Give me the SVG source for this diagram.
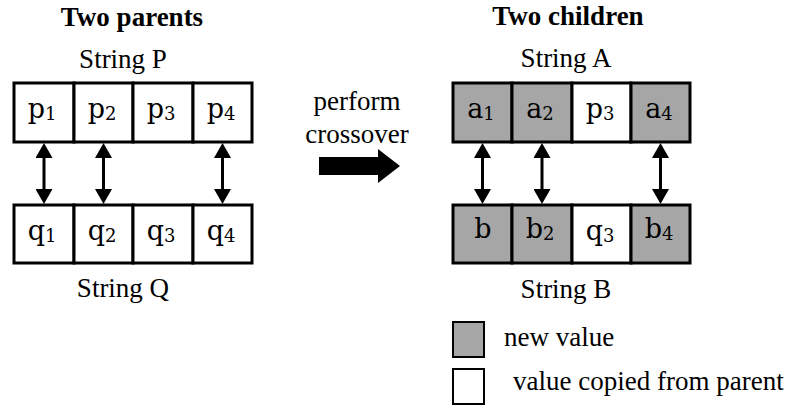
<svg xmlns="http://www.w3.org/2000/svg" width="800" height="410" viewBox="0 0 800 410">
  <defs>
    <style>
      .title { font-family: "Liberation Serif", "Times New Roman", serif; font-weight: bold; font-size: 27px; fill: #000; }
      .label { font-family: "Liberation Serif", "Times New Roman", serif; font-size: 27px; fill: #000; }
      .cell { stroke: #000; stroke-width: 3; }
      .new { fill: #a6a6a6; }
      .copied { fill: #ffffff; }
      .val { font-family: "DejaVu Serif", "Liberation Serif", serif; font-size: 27px; fill: #000; text-anchor: middle; }
      .sub { font-size: 18px; }
      .swap { stroke: #000; stroke-width: 3; fill: none; marker-start: url(#head); marker-end: url(#head); }
      .key { stroke: #000; stroke-width: 2; }
    </style>
    <marker id="head" viewBox="0 0 15 17" refX="1" refY="8.5" markerWidth="15" markerHeight="17" markerUnits="userSpaceOnUse" orient="auto-start-reverse">
      <path d="M0,0 L15,8.5 L0,17 Z" fill="#000"/>
    </marker>
  </defs>

  <rect width="800" height="410" fill="#ffffff"/>

  <!-- headings -->
  <g id="title-parents"><text class="title" x="132" y="26" text-anchor="middle">Two parents</text></g>
  <g id="title-children"><text class="title" x="568" y="25" text-anchor="middle">Two children</text></g>

  <!-- parent string P -->
  <g id="string-p">
    <text class="label" x="123" y="68" text-anchor="middle">String P</text>
    <g id="p1"><rect class="cell copied" x="14" y="83" width="60" height="59"/><text class="val" x="42" y="118">p<tspan class="sub" dy="2">1</tspan></text></g>
    <g id="p2"><rect class="cell copied" x="74" y="83" width="59" height="59"/><text class="val" x="102" y="118">p<tspan class="sub" dy="2">2</tspan></text></g>
    <g id="p3"><rect class="cell copied" x="133" y="83" width="60" height="59"/><text class="val" x="161" y="118">p<tspan class="sub" dy="2">3</tspan></text></g>
    <g id="p4"><rect class="cell copied" x="193" y="83" width="59" height="59"/><text class="val" x="221" y="118">p<tspan class="sub" dy="2">4</tspan></text></g>
  </g>

  <!-- parent string Q -->
  <g id="string-q">
    <g id="q1"><rect class="cell copied" x="14" y="205" width="60" height="58"/><text class="val" x="42" y="240">q<tspan class="sub" dy="2">1</tspan></text></g>
    <g id="q2"><rect class="cell copied" x="74" y="205" width="59" height="58"/><text class="val" x="102" y="240">q<tspan class="sub" dy="2">2</tspan></text></g>
    <g id="q3"><rect class="cell copied" x="133" y="205" width="60" height="58"/><text class="val" x="161" y="240">q<tspan class="sub" dy="2">3</tspan></text></g>
    <g id="q4"><rect class="cell copied" x="193" y="205" width="59" height="58"/><text class="val" x="221" y="240">q<tspan class="sub" dy="2">4</tspan></text></g>
    <text class="label" x="123" y="297" text-anchor="middle">String Q</text>
  </g>

  <!-- operation label -->
  <g id="crossover-label">
    <text class="label" x="357" y="110" text-anchor="middle">perform</text>
    <text class="label" x="357" y="143" text-anchor="middle">crossover</text>
  </g>

  <!-- child string A -->
  <g id="string-a">
    <text class="label" x="566" y="67" text-anchor="middle">String A</text>
    <g id="a1"><rect class="cell new" x="453" y="83" width="59" height="59"/><text class="val" x="481" y="118">a<tspan class="sub" dy="2">1</tspan></text></g>
    <g id="a2"><rect class="cell new" x="512" y="83" width="60" height="59"/><text class="val" x="540" y="118">a<tspan class="sub" dy="2">2</tspan></text></g>
    <g id="a3"><rect class="cell copied" x="572" y="83" width="59" height="59"/><text class="val" x="600" y="118">p<tspan class="sub" dy="2">3</tspan></text></g>
    <g id="a4"><rect class="cell new" x="631" y="83" width="59" height="59"/><text class="val" x="659" y="118">a<tspan class="sub" dy="2">4</tspan></text></g>
  </g>

  <!-- child string B -->
  <g id="string-b">
    <g id="b1"><rect class="cell new" x="453" y="205" width="59" height="58"/><text class="val" x="483" y="238">b</text></g>
    <g id="b2"><rect class="cell new" x="512" y="205" width="60" height="58"/><text class="val" x="540" y="238">b<tspan class="sub" dy="2">2</tspan></text></g>
    <g id="b3"><rect class="cell copied" x="572" y="205" width="59" height="58"/><text class="val" x="600" y="240">q<tspan class="sub" dy="2">3</tspan></text></g>
    <g id="b4"><rect class="cell new" x="631" y="205" width="59" height="58"/><text class="val" x="659" y="238">b<tspan class="sub" dy="2">4</tspan></text></g>
    <text class="label" x="566" y="298" text-anchor="middle">String B</text>
  </g>

  <!-- legend -->
  <g id="legend-new">
    <rect class="key new" x="453" y="322" width="31" height="35"/>
    <text class="label" x="504" y="346">new value</text>
  </g>
  <g id="legend-copied">
    <rect class="key copied" x="453" y="369" width="31" height="35"/>
    <text class="label" x="513" y="390">value copied from parent</text>
  </g>

  <!-- connectors -->
  <g id="connectors">
    <line class="swap" x1="44" y1="157" x2="44" y2="190"/>
    <line class="swap" x1="103.5" y1="157" x2="103.5" y2="190"/>
    <line class="swap" x1="222.5" y1="157" x2="222.5" y2="190"/>
    <line class="swap" x1="482.5" y1="157" x2="482.5" y2="190"/>
    <line class="swap" x1="542" y1="157" x2="542" y2="190"/>
    <line class="swap" x1="660.5" y1="157" x2="660.5" y2="190"/>
    <polygon points="319,157 378,157 378,149 400,166 378,183 378,175 319,175" fill="#000"/>
  </g>
</svg>
